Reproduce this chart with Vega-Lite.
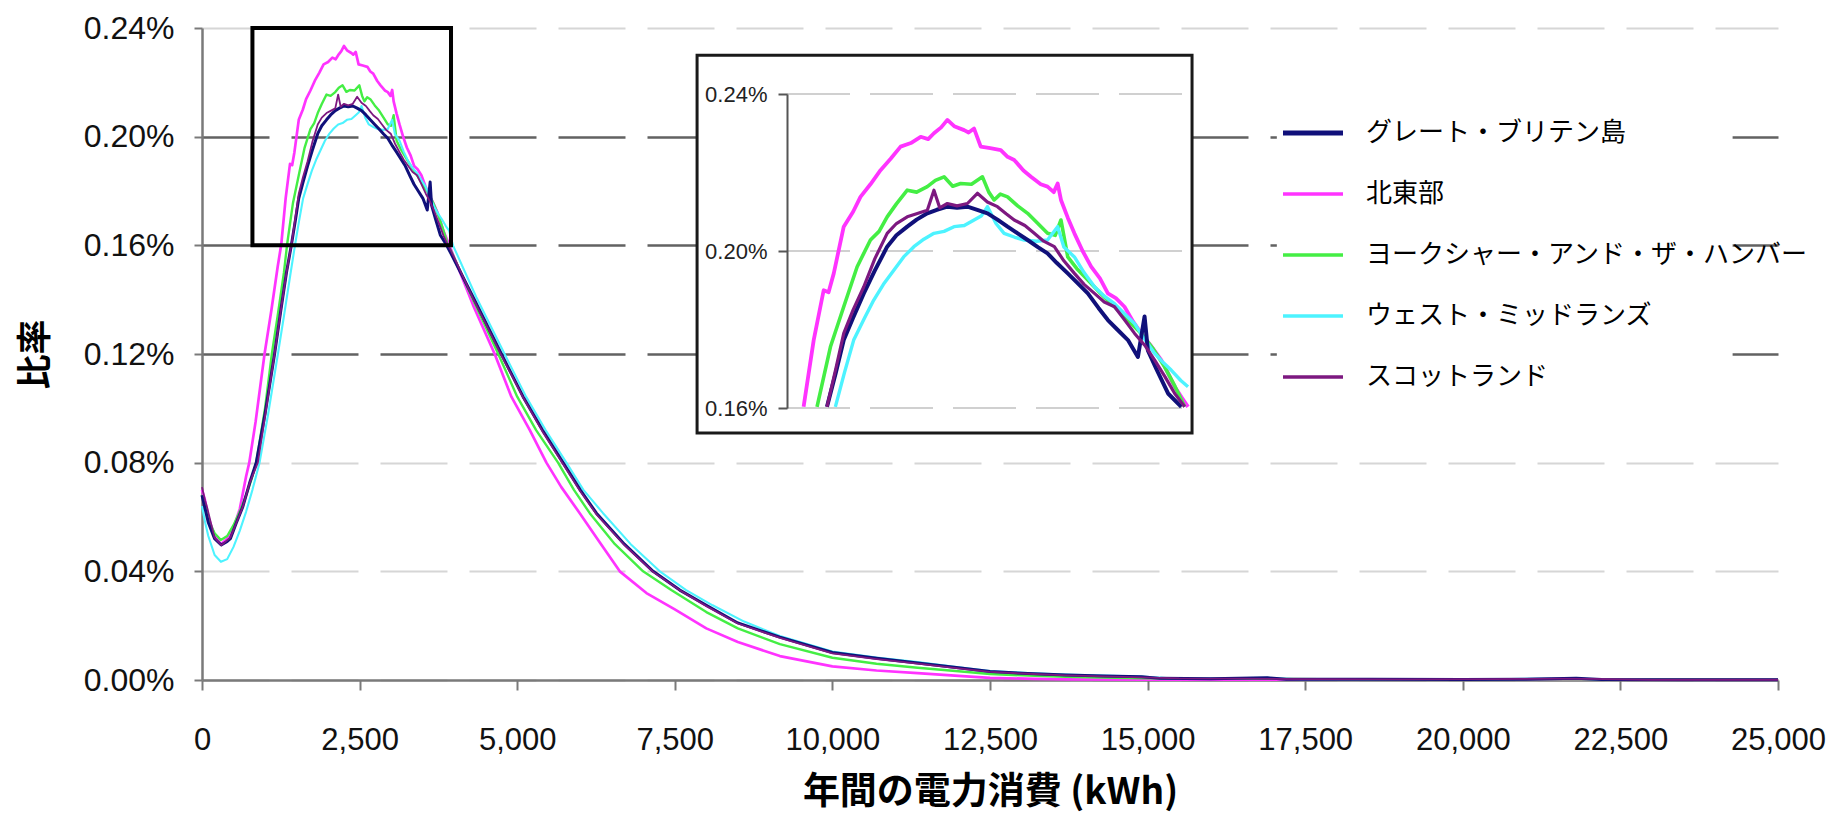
{
  "$schema": "https://vega.github.io/schema/vega-lite/v6.json",
  "width": 1576,
  "height": 652,
  "autosize": {"type": "none"},
  "padding": {"left": 202, "top": 28, "right": 59, "bottom": 136},
  "background": "white",
  "config": {"view": {"stroke": null}, "font": "Liberation Sans"},
  "datasets": {
    "curves": [
      {"s":"北東部","x":0,"p":0.070},{"s":"北東部","x":50,"p":0.066},{"s":"北東部","x":100,"p":0.060},{"s":"北東部","x":200,"p":0.053},{"s":"北東部","x":300,"p":0.050},{"s":"北東部","x":400,"p":0.052},{"s":"北東部","x":500,"p":0.056},{"s":"北東部","x":600,"p":0.063},{"s":"北東部","x":700,"p":0.075},{"s":"北東部","x":750,"p":0.080},{"s":"北東部","x":850,"p":0.095},{"s":"北東部","x":992,"p":0.120},{"s":"北東部","x":1100,"p":0.136},{"s":"北東部","x":1200,"p":0.152},{"s":"北東部","x":1257,"p":0.1603},{"s":"北東部","x":1327,"p":0.1773},{"s":"北東部","x":1396,"p":0.190},{"s":"北東部","x":1430,"p":0.1895},{"s":"北東部","x":1466,"p":0.1943},{"s":"北東部","x":1535,"p":0.2062},{"s":"北東部","x":1600,"p":0.2100},{"s":"北東部","x":1651,"p":0.2138},{"s":"北東部","x":1720,"p":0.2170},{"s":"北東部","x":1790,"p":0.2206},{"s":"北東部","x":1860,"p":0.2235},{"s":"北東部","x":1929,"p":0.2266},{"s":"北東部","x":2000,"p":0.2275},{"s":"北東部","x":2068,"p":0.2291},{"s":"北東部","x":2120,"p":0.2285},{"s":"北東部","x":2160,"p":0.2300},{"s":"北東部","x":2210,"p":0.2315},{"s":"北東部","x":2253,"p":0.2334},{"s":"北東部","x":2300,"p":0.2318},{"s":"北東部","x":2369,"p":0.2308},{"s":"北東部","x":2400,"p":0.2302},{"s":"北東部","x":2438,"p":0.2312},{"s":"北東部","x":2484,"p":0.2266},{"s":"北東部","x":2550,"p":0.2262},{"s":"北東部","x":2623,"p":0.2257},{"s":"北東部","x":2670,"p":0.2240},{"s":"北東部","x":2716,"p":0.2232},{"s":"北東部","x":2780,"p":0.2205},{"s":"北東部","x":2832,"p":0.2189},{"s":"北東部","x":2900,"p":0.2170},{"s":"北東部","x":2947,"p":0.2164},{"s":"北東部","x":2990,"p":0.2150},{"s":"北東部","x":3017,"p":0.2172},{"s":"北東部","x":3040,"p":0.2130},{"s":"北東部","x":3087,"p":0.2085},{"s":"北東部","x":3133,"p":0.2045},{"s":"北東部","x":3190,"p":0.2000},{"s":"北東部","x":3249,"p":0.1960},{"s":"北東部","x":3310,"p":0.1930},{"s":"北東部","x":3365,"p":0.1892},{"s":"北東部","x":3420,"p":0.1880},{"s":"北東部","x":3480,"p":0.1858},{"s":"北東部","x":3540,"p":0.1820},{"s":"北東部","x":3596,"p":0.1790},{"s":"北東部","x":3660,"p":0.1760},{"s":"北東部","x":3735,"p":0.1722},{"s":"北東部","x":3780,"p":0.1690},{"s":"北東部","x":3828,"p":0.1654},{"s":"北東部","x":3880,"p":0.1625},{"s":"北東部","x":3920,"p":0.1603},{"s":"北東部","x":4000,"p":0.1555},{"s":"北東部","x":4300,"p":0.138},{"s":"北東部","x":4643,"p":0.120},{"s":"北東部","x":4907,"p":0.1043},{"s":"北東部","x":5200,"p":0.092},{"s":"北東部","x":5463,"p":0.080},{"s":"北東部","x":5700,"p":0.071},{"s":"北東部","x":5992,"p":0.0614},{"s":"北東部","x":6300,"p":0.051},{"s":"北東部","x":6627,"p":0.040},{"s":"北東部","x":7050,"p":0.032},{"s":"北東部","x":7500,"p":0.026},{"s":"北東部","x":8000,"p":0.019},{"s":"北東部","x":8500,"p":0.014},{"s":"北東部","x":9167,"p":0.0088},{"s":"北東部","x":10000,"p":0.005},{"s":"北東部","x":10700,"p":0.0035},{"s":"北東部","x":11352,"p":0.0025},{"s":"北東部","x":12000,"p":0.0015},{"s":"北東部","x":12500,"p":0.0008},{"s":"北東部","x":13200,"p":0.0004},{"s":"北東部","x":13703,"p":0.0002},{"s":"北東部","x":15000,"p":0.0001},{"s":"北東部","x":17000,"p":0.0001},{"s":"北東部","x":20000,"p":0.0001},{"s":"北東部","x":22000,"p":0.0002},{"s":"北東部","x":25000,"p":0.0001},

      {"s":"ヨークシャー・アンド・ザ・ハンバー","x":0,"p":0.068},{"s":"ヨークシャー・アンド・ザ・ハンバー","x":50,"p":0.064},{"s":"ヨークシャー・アンド・ザ・ハンバー","x":100,"p":0.059},{"s":"ヨークシャー・アンド・ザ・ハンバー","x":200,"p":0.054},{"s":"ヨークシャー・アンド・ザ・ハンバー","x":300,"p":0.0515},{"s":"ヨークシャー・アンド・ザ・ハンバー","x":400,"p":0.053},{"s":"ヨークシャー・アンド・ザ・ハンバー","x":500,"p":0.057},{"s":"ヨークシャー・アンド・ザ・ハンバー","x":600,"p":0.062},{"s":"ヨークシャー・アンド・ザ・ハンバー","x":700,"p":0.068},{"s":"ヨークシャー・アンド・ザ・ハンバー","x":800,"p":0.075},{"s":"ヨークシャー・アンド・ザ・ハンバー","x":860,"p":0.080},{"s":"ヨークシャー・アンド・ザ・ハンバー","x":1000,"p":0.100},{"s":"ヨークシャー・アンド・ザ・ハンバー","x":1108,"p":0.120},{"s":"ヨークシャー・アンド・ザ・ハンバー","x":1200,"p":0.134},{"s":"ヨークシャー・アンド・ザ・ハンバー","x":1300,"p":0.150},{"s":"ヨークシャー・アンド・ザ・ハンバー","x":1350,"p":0.1603},{"s":"ヨークシャー・アンド・ザ・ハンバー","x":1443,"p":0.1756},{"s":"ヨークシャー・アンド・ザ・ハンバー","x":1535,"p":0.1858},{"s":"ヨークシャー・アンド・ザ・ハンバー","x":1628,"p":0.196},{"s":"ヨークシャー・アンド・ザ・ハンバー","x":1720,"p":0.2028},{"s":"ヨークシャー・アンド・ザ・ハンバー","x":1780,"p":0.2050},{"s":"ヨークシャー・アンド・ザ・ハンバー","x":1836,"p":0.2087},{"s":"ヨークシャー・アンド・ザ・ハンバー","x":1900,"p":0.2120},{"s":"ヨークシャー・アンド・ザ・ハンバー","x":1975,"p":0.2155},{"s":"ヨークシャー・アンド・ザ・ハンバー","x":2040,"p":0.2150},{"s":"ヨークシャー・アンド・ザ・ハンバー","x":2114,"p":0.2164},{"s":"ヨークシャー・アンド・ザ・ハンバー","x":2170,"p":0.2180},{"s":"ヨークシャー・アンド・ザ・ハンバー","x":2230,"p":0.2189},{"s":"ヨークシャー・アンド・ザ・ハンバー","x":2290,"p":0.2165},{"s":"ヨークシャー・アンド・ザ・ハンバー","x":2345,"p":0.2172},{"s":"ヨークシャー・アンド・ザ・ハンバー","x":2420,"p":0.2170},{"s":"ヨークシャー・アンド・ザ・ハンバー","x":2496,"p":0.2189},{"s":"ヨークシャー・アンド・ザ・ハンバー","x":2540,"p":0.2150},{"s":"ヨークシャー・アンド・ザ・ハンバー","x":2577,"p":0.2130},{"s":"ヨークシャー・アンド・ザ・ハンバー","x":2620,"p":0.2145},{"s":"ヨークシャー・アンド・ザ・ハンバー","x":2670,"p":0.2138},{"s":"ヨークシャー・アンド・ザ・ハンバー","x":2740,"p":0.2115},{"s":"ヨークシャー・アンド・ザ・ハンバー","x":2809,"p":0.2096},{"s":"ヨークシャー・アンド・ザ・ハンバー","x":2880,"p":0.2070},{"s":"ヨークシャー・アンド・ザ・ハンバー","x":2947,"p":0.2045},{"s":"ヨークシャー・アンド・ザ・ハンバー","x":3000,"p":0.2040},{"s":"ヨークシャー・アンド・ザ・ハンバー","x":3040,"p":0.2079},{"s":"ヨークシャー・アンド・ザ・ハンバー","x":3087,"p":0.1985},{"s":"ヨークシャー・アンド・ザ・ハンバー","x":3150,"p":0.1955},{"s":"ヨークシャー・アンド・ザ・ハンバー","x":3226,"p":0.1926},{"s":"ヨークシャー・アンド・ザ・ハンバー","x":3320,"p":0.1890},{"s":"ヨークシャー・アンド・ザ・ハンバー","x":3411,"p":0.1858},{"s":"ヨークシャー・アンド・ザ・ハンバー","x":3500,"p":0.1825},{"s":"ヨークシャー・アンド・ザ・ハンバー","x":3596,"p":0.1790},{"s":"ヨークシャー・アンド・ザ・ハンバー","x":3680,"p":0.1750},{"s":"ヨークシャー・アンド・ザ・ハンバー","x":3758,"p":0.1705},{"s":"ヨークシャー・アンド・ザ・ハンバー","x":3830,"p":0.1655},{"s":"ヨークシャー・アンド・ザ・ハンバー","x":3897,"p":0.1603},{"s":"ヨークシャー・アンド・ザ・ハンバー","x":3950,"p":0.158},{"s":"ヨークシャー・アンド・ザ・ハンバー","x":4300,"p":0.140},{"s":"ヨークシャー・アンド・ザ・ハンバー","x":4700,"p":0.120},{"s":"ヨークシャー・アンド・ザ・ハンバー","x":5000,"p":0.1043},{"s":"ヨークシャー・アンド・ザ・ハンバー","x":5300,"p":0.092},{"s":"ヨークシャー・アンド・ザ・ハンバー","x":5648,"p":0.080},{"s":"ヨークシャー・アンド・ザ・ハンバー","x":5900,"p":0.070},{"s":"ヨークシャー・アンド・ザ・ハンバー","x":6151,"p":0.0614},{"s":"ヨークシャー・アンド・ザ・ハンバー","x":6550,"p":0.050},{"s":"ヨークシャー・アンド・ザ・ハンバー","x":6997,"p":0.040},{"s":"ヨークシャー・アンド・ザ・ハンバー","x":7450,"p":0.033},{"s":"ヨークシャー・アンド・ザ・ハンバー","x":8000,"p":0.025},{"s":"ヨークシャー・アンド・ザ・ハンバー","x":8500,"p":0.019},{"s":"ヨークシャー・アンド・ザ・ハンバー","x":9167,"p":0.0132},{"s":"ヨークシャー・アンド・ザ・ハンバー","x":10000,"p":0.0082},{"s":"ヨークシャー・アンド・ザ・ハンバー","x":10700,"p":0.0060},{"s":"ヨークシャー・アンド・ザ・ハンバー","x":11352,"p":0.0045},{"s":"ヨークシャー・アンド・ザ・ハンバー","x":12000,"p":0.0032},{"s":"ヨークシャー・アンド・ザ・ハンバー","x":12500,"p":0.0022},{"s":"ヨークシャー・アンド・ザ・ハンバー","x":13100,"p":0.0016},{"s":"ヨークシャー・アンド・ザ・ハンバー","x":13703,"p":0.0012},{"s":"ヨークシャー・アンド・ザ・ハンバー","x":14500,"p":0.0008},{"s":"ヨークシャー・アンド・ザ・ハンバー","x":15000,"p":0.0006},{"s":"ヨークシャー・アンド・ザ・ハンバー","x":16000,"p":0.0004},{"s":"ヨークシャー・アンド・ザ・ハンバー","x":17000,"p":0.0004},{"s":"ヨークシャー・アンド・ザ・ハンバー","x":18500,"p":0.0002},{"s":"ヨークシャー・アンド・ザ・ハンバー","x":20000,"p":0.0002},{"s":"ヨークシャー・アンド・ザ・ハンバー","x":22000,"p":0.0003},{"s":"ヨークシャー・アンド・ザ・ハンバー","x":25000,"p":0.0001},

      {"s":"ウェスト・ミッドランズ","x":0,"p":0.064},{"s":"ウェスト・ミッドランズ","x":50,"p":0.058},{"s":"ウェスト・ミッドランズ","x":100,"p":0.053},{"s":"ウェスト・ミッドランズ","x":200,"p":0.046},{"s":"ウェスト・ミッドランズ","x":300,"p":0.0435},{"s":"ウェスト・ミッドランズ","x":400,"p":0.0445},{"s":"ウェスト・ミッドランズ","x":500,"p":0.049},{"s":"ウェスト・ミッドランズ","x":600,"p":0.055},{"s":"ウェスト・ミッドランズ","x":700,"p":0.062},{"s":"ウェスト・ミッドランズ","x":800,"p":0.070},{"s":"ウェスト・ミッドランズ","x":913,"p":0.080},{"s":"ウェスト・ミッドランズ","x":1050,"p":0.098},{"s":"ウェスト・ミッドランズ","x":1204,"p":0.120},{"s":"ウェスト・ミッドランズ","x":1300,"p":0.134},{"s":"ウェスト・ミッドランズ","x":1400,"p":0.149},{"s":"ウェスト・ミッドランズ","x":1477,"p":0.1603},{"s":"ウェスト・ミッドランズ","x":1540,"p":0.1690},{"s":"ウェスト・ミッドランズ","x":1604,"p":0.1773},{"s":"ウェスト・ミッドランズ","x":1680,"p":0.1830},{"s":"ウェスト・ミッドランズ","x":1743,"p":0.1875},{"s":"ウェスト・ミッドランズ","x":1810,"p":0.1915},{"s":"ウェスト・ミッドランズ","x":1882,"p":0.1951},{"s":"ウェスト・ミッドランズ","x":1950,"p":0.1985},{"s":"ウェスト・ミッドランズ","x":2021,"p":0.2011},{"s":"ウェスト・ミッドランズ","x":2090,"p":0.2030},{"s":"ウェスト・ミッドランズ","x":2160,"p":0.2045},{"s":"ウェスト・ミッドランズ","x":2230,"p":0.2050},{"s":"ウェスト・ミッドランズ","x":2299,"p":0.2062},{"s":"ウェスト・ミッドランズ","x":2370,"p":0.2065},{"s":"ウェスト・ミッドランズ","x":2438,"p":0.2079},{"s":"ウェスト・ミッドランズ","x":2490,"p":0.2090},{"s":"ウェスト・ミッドランズ","x":2531,"p":0.2113},{"s":"ウェスト・ミッドランズ","x":2590,"p":0.2070},{"s":"ウェスト・ミッドランズ","x":2646,"p":0.2045},{"s":"ウェスト・ミッドランズ","x":2720,"p":0.2035},{"s":"ウェスト・ミッドランズ","x":2786,"p":0.2028},{"s":"ウェスト・ミッドランズ","x":2870,"p":0.2025},{"s":"ウェスト・ミッドランズ","x":2947,"p":0.2028},{"s":"ウェスト・ミッドランズ","x":3017,"p":0.2062},{"s":"ウェスト・ミッドランズ","x":3060,"p":0.2010},{"s":"ウェスト・ミッドランズ","x":3133,"p":0.1985},{"s":"ウェスト・ミッドランズ","x":3200,"p":0.1945},{"s":"ウェスト・ミッドランズ","x":3272,"p":0.1909},{"s":"ウェスト・ミッドランズ","x":3340,"p":0.1885},{"s":"ウェスト・ミッドランズ","x":3411,"p":0.1866},{"s":"ウェスト・ミッドランズ","x":3480,"p":0.1840},{"s":"ウェスト・ミッドランズ","x":3550,"p":0.1815},{"s":"ウェスト・ミッドランズ","x":3620,"p":0.1775},{"s":"ウェスト・ミッドランズ","x":3689,"p":0.1739},{"s":"ウェスト・ミッドランズ","x":3750,"p":0.1715},{"s":"ウェスト・ミッドランズ","x":3805,"p":0.1696},{"s":"ウェスト・ミッドランズ","x":3870,"p":0.1670},{"s":"ウェスト・ミッドランズ","x":3920,"p":0.1654},{"s":"ウェスト・ミッドランズ","x":3981,"p":0.160},{"s":"ウェスト・ミッドランズ","x":4350,"p":0.141},{"s":"ウェスト・ミッドランズ","x":4800,"p":0.120},{"s":"ウェスト・ミッドランズ","x":5140,"p":0.1043},{"s":"ウェスト・ミッドランズ","x":5450,"p":0.092},{"s":"ウェスト・ミッドランズ","x":5780,"p":0.080},{"s":"ウェスト・ミッドランズ","x":6050,"p":0.070},{"s":"ウェスト・ミッドランズ","x":6362,"p":0.0614},{"s":"ウェスト・ミッドランズ","x":6800,"p":0.050},{"s":"ウェスト・ミッドランズ","x":7262,"p":0.040},{"s":"ウェスト・ミッドランズ","x":7680,"p":0.0331},{"s":"ウェスト・ミッドランズ","x":8100,"p":0.0275},{"s":"ウェスト・ミッドランズ","x":8600,"p":0.0215},{"s":"ウェスト・ミッドランズ","x":9167,"p":0.0162},{"s":"ウェスト・ミッドランズ","x":10000,"p":0.0105},{"s":"ウェスト・ミッドランズ","x":10700,"p":0.0083},{"s":"ウェスト・ミッドランズ","x":11352,"p":0.0066},{"s":"ウェスト・ミッドランズ","x":12000,"p":0.0047},{"s":"ウェスト・ミッドランズ","x":12500,"p":0.0033},{"s":"ウェスト・ミッドランズ","x":13100,"p":0.0026},{"s":"ウェスト・ミッドランズ","x":13703,"p":0.0020},{"s":"ウェスト・ミッドランズ","x":14300,"p":0.0016},{"s":"ウェスト・ミッドランズ","x":14906,"p":0.0013},{"s":"ウェスト・ミッドランズ","x":15300,"p":0.0007},{"s":"ウェスト・ミッドランズ","x":16200,"p":0.0006},{"s":"ウェスト・ミッドランズ","x":16900,"p":0.0008},{"s":"ウェスト・ミッドランズ","x":17400,"p":0.0003},{"s":"ウェスト・ミッドランズ","x":19000,"p":0.0002},{"s":"ウェスト・ミッドランズ","x":20500,"p":0.0003},{"s":"ウェスト・ミッドランズ","x":21700,"p":0.0006},{"s":"ウェスト・ミッドランズ","x":22100,"p":0.0003},{"s":"ウェスト・ミッドランズ","x":23500,"p":0.0001},{"s":"ウェスト・ミッドランズ","x":25000,"p":0.0001},

      {"s":"グレート・ブリテン島","x":0,"p":0.068},{"s":"グレート・ブリテン島","x":50,"p":0.063},{"s":"グレート・ブリテン島","x":100,"p":0.058},{"s":"グレート・ブリテン島","x":200,"p":0.052},{"s":"グレート・ブリテン島","x":305,"p":0.0497},{"s":"グレート・ブリテン島","x":400,"p":0.051},{"s":"グレート・ブリテン島","x":450,"p":0.052},{"s":"グレート・ブリテン島","x":542,"p":0.0577},{"s":"グレート・ブリテン島","x":648,"p":0.0638},{"s":"グレート・ブリテン島","x":754,"p":0.0724},{"s":"グレート・ブリテン島","x":860,"p":0.080},{"s":"グレート・ブリテン島","x":1000,"p":0.098},{"s":"グレート・ブリテン島","x":1151,"p":0.120},{"s":"グレート・ブリテン島","x":1250,"p":0.136},{"s":"グレート・ブリテン島","x":1340,"p":0.150},{"s":"グレート・ブリテン島","x":1419,"p":0.1603},{"s":"グレート・ブリテン島","x":1480,"p":0.1690},{"s":"グレート・ブリテン島","x":1535,"p":0.1773},{"s":"グレート・ブリテン島","x":1600,"p":0.1830},{"s":"グレート・ブリテン島","x":1674,"p":0.1892},{"s":"グレート・ブリテン島","x":1750,"p":0.1950},{"s":"グレート・ブリテン島","x":1836,"p":0.2011},{"s":"グレート・ブリテン島","x":1900,"p":0.2040},{"s":"グレート・ブリテン島","x":1975,"p":0.2062},{"s":"グレート・ブリテン島","x":2040,"p":0.2080},{"s":"グレート・ブリテン島","x":2114,"p":0.2096},{"s":"グレート・ブリテン島","x":2180,"p":0.2105},{"s":"グレート・ブリテン島","x":2253,"p":0.2113},{"s":"グレート・ブリテン島","x":2320,"p":0.2110},{"s":"グレート・ブリテン島","x":2392,"p":0.2113},{"s":"グレート・ブリテン島","x":2460,"p":0.2105},{"s":"グレート・ブリテン島","x":2531,"p":0.2096},{"s":"グレート・ブリテン島","x":2600,"p":0.2080},{"s":"グレート・ブリテン島","x":2670,"p":0.2062},{"s":"グレート・ブリテン島","x":2740,"p":0.2045},{"s":"グレート・ブリテン島","x":2809,"p":0.2028},{"s":"グレート・ブリテン島","x":2880,"p":0.2010},{"s":"グレート・ブリテン島","x":2947,"p":0.1994},{"s":"グレート・ブリテン島","x":3010,"p":0.1970},{"s":"グレート・ブリテン島","x":3087,"p":0.1943},{"s":"グレート・ブリテン島","x":3150,"p":0.1920},{"s":"グレート・ブリテン島","x":3226,"p":0.1892},{"s":"グレート・ブリテン島","x":3300,"p":0.1855},{"s":"グレート・ブリテン島","x":3365,"p":0.1824},{"s":"グレート・ブリテン島","x":3430,"p":0.1800},{"s":"グレート・ブリテン島","x":3504,"p":0.1773},{"s":"グレート・ブリテン島","x":3573,"p":0.1730},{"s":"グレート・ブリテン島","x":3619,"p":0.1833},{"s":"グレート・ブリテン島","x":3642,"p":0.1747},{"s":"グレート・ブリテン島","x":3700,"p":0.1700},{"s":"グレート・ブリテン島","x":3782,"p":0.1637},{"s":"グレート・ブリテン島","x":3874,"p":0.1603},{"s":"グレート・ブリテン島","x":3950,"p":0.157},{"s":"グレート・ブリテン島","x":4299,"p":0.141},{"s":"グレート・ブリテン島","x":4749,"p":0.120},{"s":"グレート・ブリテン島","x":5093,"p":0.1043},{"s":"グレート・ブリテン島","x":5400,"p":0.092},{"s":"グレート・ブリテン島","x":5727,"p":0.080},{"s":"グレート・ブリテン島","x":6000,"p":0.070},{"s":"グレート・ブリテン島","x":6257,"p":0.0614},{"s":"グレート・ブリテン島","x":6700,"p":0.050},{"s":"グレート・ブリテン島","x":7156,"p":0.040},{"s":"グレート・ブリテン島","x":7579,"p":0.0331},{"s":"グレート・ブリテン島","x":8000,"p":0.0275},{"s":"グレート・ブリテン島","x":8500,"p":0.021},{"s":"グレート・ブリテン島","x":9167,"p":0.0158},{"s":"グレート・ブリテン島","x":10000,"p":0.0101},{"s":"グレート・ブリテン島","x":10700,"p":0.0080},{"s":"グレート・ブリテン島","x":11352,"p":0.0063},{"s":"グレート・ブリテン島","x":12000,"p":0.0045},{"s":"グレート・ブリテン島","x":12500,"p":0.0031},{"s":"グレート・ブリテン島","x":13100,"p":0.0024},{"s":"グレート・ブリテン島","x":13703,"p":0.0018},{"s":"グレート・ブリテン島","x":14300,"p":0.0015},{"s":"グレート・ブリテン島","x":14906,"p":0.0012},{"s":"グレート・ブリテン島","x":15200,"p":0.0006},{"s":"グレート・ブリテン島","x":16000,"p":0.0005},{"s":"グレート・ブリテン島","x":16900,"p":0.0008},{"s":"グレート・ブリテン島","x":17200,"p":0.0003},{"s":"グレート・ブリテン島","x":18500,"p":0.0003},{"s":"グレート・ブリテン島","x":20000,"p":0.0002},{"s":"グレート・ブリテン島","x":21000,"p":0.0003},{"s":"グレート・ブリテン島","x":21800,"p":0.0006},{"s":"グレート・ブリテン島","x":22200,"p":0.0002},{"s":"グレート・ブリテン島","x":23500,"p":0.0001},{"s":"グレート・ブリテン島","x":25000,"p":0.0001},

      {"s":"スコットランド","x":0,"p":0.071},{"s":"スコットランド","x":50,"p":0.066},{"s":"スコットランド","x":87,"p":0.063},{"s":"スコットランド","x":198,"p":0.0524},{"s":"スコットランド","x":305,"p":0.0496},{"s":"スコットランド","x":450,"p":0.0524},{"s":"スコットランド","x":542,"p":0.0577},{"s":"スコットランド","x":648,"p":0.0638},{"s":"スコットランド","x":754,"p":0.0724},{"s":"スコットランド","x":886,"p":0.080},{"s":"スコットランド","x":1000,"p":0.097},{"s":"スコットランド","x":1151,"p":0.120},{"s":"スコットランド","x":1250,"p":0.136},{"s":"スコットランド","x":1340,"p":0.150},{"s":"スコットランド","x":1419,"p":0.1603},{"s":"スコットランド","x":1480,"p":0.1700},{"s":"スコットランド","x":1535,"p":0.1790},{"s":"スコットランド","x":1600,"p":0.1850},{"s":"スコットランド","x":1674,"p":0.1909},{"s":"スコットランド","x":1750,"p":0.1980},{"s":"スコットランド","x":1836,"p":0.2045},{"s":"スコットランド","x":1900,"p":0.2070},{"s":"スコットランド","x":1975,"p":0.2087},{"s":"スコットランド","x":2040,"p":0.2095},{"s":"スコットランド","x":2114,"p":0.2104},{"s":"スコットランド","x":2160,"p":0.2155},{"s":"スコットランド","x":2200,"p":0.2110},{"s":"スコットランド","x":2253,"p":0.2121},{"s":"スコットランド","x":2320,"p":0.2115},{"s":"スコットランド","x":2392,"p":0.2121},{"s":"スコットランド","x":2461,"p":0.2147},{"s":"スコットランド","x":2530,"p":0.2125},{"s":"スコットランド","x":2600,"p":0.2113},{"s":"スコットランド","x":2660,"p":0.2095},{"s":"スコットランド","x":2716,"p":0.2079},{"s":"スコットランド","x":2790,"p":0.2065},{"s":"スコットランド","x":2855,"p":0.2045},{"s":"スコットランド","x":2920,"p":0.2025},{"s":"スコットランド","x":2994,"p":0.2011},{"s":"スコットランド","x":3060,"p":0.1975},{"s":"スコットランド","x":3133,"p":0.1943},{"s":"スコットランド","x":3200,"p":0.1915},{"s":"スコットランド","x":3272,"p":0.1892},{"s":"スコットランド","x":3340,"p":0.1870},{"s":"スコットランド","x":3411,"p":0.1858},{"s":"スコットランド","x":3480,"p":0.1825},{"s":"スコットランド","x":3550,"p":0.1790},{"s":"スコットランド","x":3620,"p":0.1760},{"s":"スコットランド","x":3689,"p":0.1722},{"s":"スコットランド","x":3760,"p":0.1680},{"s":"スコットランド","x":3828,"p":0.1637},{"s":"スコットランド","x":3897,"p":0.1603},{"s":"スコットランド","x":3950,"p":0.158},{"s":"スコットランド","x":4299,"p":0.1405},{"s":"スコットランド","x":4749,"p":0.1195},{"s":"スコットランド","x":5093,"p":0.104},{"s":"スコットランド","x":5400,"p":0.0915},{"s":"スコットランド","x":5727,"p":0.0795},{"s":"スコットランド","x":6000,"p":0.0695},{"s":"スコットランド","x":6257,"p":0.061},{"s":"スコットランド","x":6700,"p":0.0497},{"s":"スコットランド","x":7156,"p":0.0398},{"s":"スコットランド","x":7579,"p":0.033},{"s":"スコットランド","x":8000,"p":0.0272},{"s":"スコットランド","x":8500,"p":0.0208},{"s":"スコットランド","x":9167,"p":0.0155},{"s":"スコットランド","x":10000,"p":0.0098},{"s":"スコットランド","x":10700,"p":0.0077},{"s":"スコットランド","x":11352,"p":0.0060},{"s":"スコットランド","x":12000,"p":0.0043},{"s":"スコットランド","x":12500,"p":0.0030},{"s":"スコットランド","x":13100,"p":0.0023},{"s":"スコットランド","x":13703,"p":0.0017},{"s":"スコットランド","x":14300,"p":0.0013},{"s":"スコットランド","x":14906,"p":0.0010},{"s":"スコットランド","x":15500,"p":0.0006},{"s":"スコットランド","x":16500,"p":0.0005},{"s":"スコットランド","x":17500,"p":0.0003},{"s":"スコットランド","x":19000,"p":0.0002},{"s":"スコットランド","x":20500,"p":0.0003},{"s":"スコットランド","x":21500,"p":0.0005},{"s":"スコットランド","x":22000,"p":0.0004},{"s":"スコットランド","x":23000,"p":0.0001},{"s":"スコットランド","x":25000,"p":0.0001}
    ],
    "legendbox": [{"x1": 17050, "x2": 24280, "p1": 0.098, "p2": 0.232}],
    "zoombox": [{"x1": 800, "x2": 3950, "p1": 0.16, "p2": 0.24}],
    "insetbox": [{"x1": 519, "x2": 3948, "p1": 0.1536, "p2": 0.2499}],
    "insetgrid": [{"p": 0.16}, {"p": 0.20}, {"p": 0.24}]
  },
  "layer": [
    {
      "data": {"name": "curves"},
      "mark": {"type": "line", "strokeJoin": "round"},
      "encoding": {
        "x": {"field": "x", "type": "quantitative",
          "scale": {"domain": [0, 25000], "nice": false, "zero": false},
          "axis": {"values": [0,2500,5000,7500,10000,12500,15000,17500,20000,22500,25000], "format": ",d",
            "labelFlush": false, "labelOverlap": false, "labelBound": false,
            "labelFont": "Liberation Sans", "labelFontSize": 31, "labelColor": "#111", "labelPadding": 35,
            "tickSize": 10, "tickWidth": 2, "tickColor": "#7a7a7a", "domainColor": "#7a7a7a", "domainWidth": 2.5,
            "grid": false, "title": "年間の電力消費 (kWh)", "titleFont": "Noto Sans CJK JP", "titleFontSize": 37,
            "titleFontWeight": "bold", "titleColor": "#000", "titlePadding": 19}},
        "y": {"field": "p", "type": "quantitative",
          "scale": {"domain": [0, 0.24], "nice": false, "zero": false},
          "axis": {"values": [0,0.04,0.08,0.12,0.16,0.20,0.24], "labelExpr": "format(datum.value, '.2f') + '%'",
            "labelFlush": false,
            "labelFont": "Liberation Sans", "labelFontSize": 32, "labelColor": "#111", "labelPadding": 20,
            "tickSize": 8, "tickWidth": 2, "tickColor": "#7a7a7a", "domainColor": "#7a7a7a", "domainWidth": 2.5,
            "grid": true, "gridDash": [67, 22],
            "gridColor": {"condition": {"test": "datum.value > 0.11 && datum.value < 0.21", "value": "#626262"}, "value": "#d6d6d6"},
            "gridWidth": {"condition": {"test": "datum.value > 0.11 && datum.value < 0.21", "value": 2.5}, "value": 2},
            "title": "比率", "titleFont": "Noto Sans CJK JP", "titleFontSize": 35, "titleFontWeight": "bold",
            "titleColor": "#000", "titlePadding": 30}},
        "color": {"field": "s", "type": "nominal",
          "scale": {"domain": ["グレート・ブリテン島","北東部","ヨークシャー・アンド・ザ・ハンバー","ウェスト・ミッドランズ","スコットランド"],
                    "range": ["#10107a","#ff33ff","#44ee44","#4df3ff","#7d1880"]},
          "legend": {"orient": "none", "legendX": 1098, "legendY": 92, "title": null, "symbolType": "stroke",
            "symbolSize": 3600, "symbolStrokeWidth": 3.5, "labelFont": "Noto Sans CJK JP", "labelFontSize": 26,
            "labelColor": "#000", "labelOffset": 40, "rowPadding": 35, "padding": 0, "labelLimit": 0,
            "encode": {"symbols": {"update": {"strokeWidth": {"signal": "datum.value === 'グレート・ブリテン島' ? 5 : 3.5"}}}}}},
        "strokeWidth": {"field": "s", "type": "nominal",
          "scale": {"domain": ["グレート・ブリテン島","北東部","ヨークシャー・アンド・ザ・ハンバー","ウェスト・ミッドランズ","スコットランド"],
                    "range": [3, 1.8, 1.8, 1.8, 2.6]}, "legend": null}
      }
    },
    {
      "data": {"name": "legendbox"},
      "mark": {"type": "rect", "fill": "white"},
      "encoding": {
        "x": {"field": "x1", "type": "quantitative", "scale": {"domain": [0, 25000], "nice": false, "zero": false}, "axis": null},
        "x2": {"field": "x2"},
        "y": {"field": "p1", "type": "quantitative", "scale": {"domain": [0, 0.24], "nice": false, "zero": false}, "axis": null},
        "y2": {"field": "p2"}
      }
    },
    {
      "data": {"name": "zoombox"},
      "mark": {"type": "rect", "filled": false, "stroke": "#000", "strokeWidth": 4},
      "encoding": {
        "x": {"field": "x1", "type": "quantitative", "scale": {"domain": [0, 25000], "nice": false, "zero": false}, "axis": null},
        "x2": {"field": "x2"},
        "y": {"field": "p1", "type": "quantitative", "scale": {"domain": [0, 0.24], "nice": false, "zero": false}, "axis": null},
        "y2": {"field": "p2"}
      }
    },
    {
      "data": {"name": "insetbox"},
      "mark": {"type": "rect", "fill": "white", "stroke": "#1a1a1a", "strokeWidth": 3},
      "encoding": {
        "x": {"field": "x1", "type": "quantitative", "scale": {"domain": [1142, 3920], "range": [585, 986], "nice": false, "zero": false}, "axis": null},
        "x2": {"field": "x2"},
        "y": {"field": "p1", "type": "quantitative", "scale": {"domain": [0.16, 0.24], "range": [380, 66], "nice": false, "zero": false}, "axis": null},
        "y2": {"field": "p2"}
      }
    },
    {
      "data": {"name": "insetgrid"},
      "mark": {"type": "rule", "stroke": "#d0d0d0", "strokeWidth": 2, "strokeDash": [63, 20]},
      "encoding": {
        "y": {"field": "p", "type": "quantitative", "scale": {"domain": [0.16, 0.24], "range": [380, 66], "nice": false, "zero": false}, "axis": null},
        "x": {"datum": 1142, "type": "quantitative", "scale": {"domain": [1142, 3920], "range": [585, 986], "nice": false, "zero": false}, "axis": null},
        "x2": {"datum": 3920}
      }
    },
    {
      "data": {"name": "curves"},
      "transform": [{"filter": {"field": "x", "range": [1142, 3925]}}, {"filter": {"field": "p", "gte": 0.16}}],
      "mark": {"type": "line", "strokeJoin": "round"},
      "encoding": {
        "x": {"field": "x", "type": "quantitative", "scale": {"domain": [1142, 3920], "range": [585, 986], "nice": false, "zero": false}, "axis": null},
        "y": {"field": "p", "type": "quantitative", "scale": {"domain": [0.16, 0.24], "range": [380, 66], "nice": false, "zero": false},
          "axis": {"orient": "left", "offset": -585, "values": [0.16, 0.20, 0.24], "labelExpr": "format(datum.value, '.2f') + '%'",
            "labelFlush": false,
            "labelFont": "Liberation Sans", "labelFontSize": 22, "labelColor": "#222", "labelPadding": 11,
            "tickSize": 9, "tickWidth": 2, "tickColor": "#555", "domainColor": "#555", "domainWidth": 2,
            "grid": false, "title": null, "zindex": 1}},
        "color": {"field": "s", "type": "nominal", "legend": null},
        "strokeWidth": {"field": "s", "type": "nominal",
          "scale": {"domain": ["グレート・ブリテン島","北東部","ヨークシャー・アンド・ザ・ハンバー","ウェスト・ミッドランズ","スコットランド"],
                    "range": [4, 3.2, 3.2, 3.2, 3.6]}, "legend": null}
      }
    }
  ],
  "resolve": {"scale": {"x": "independent", "y": "independent", "strokeWidth": "independent"}, "axis": {"x": "independent", "y": "independent"}}
}
